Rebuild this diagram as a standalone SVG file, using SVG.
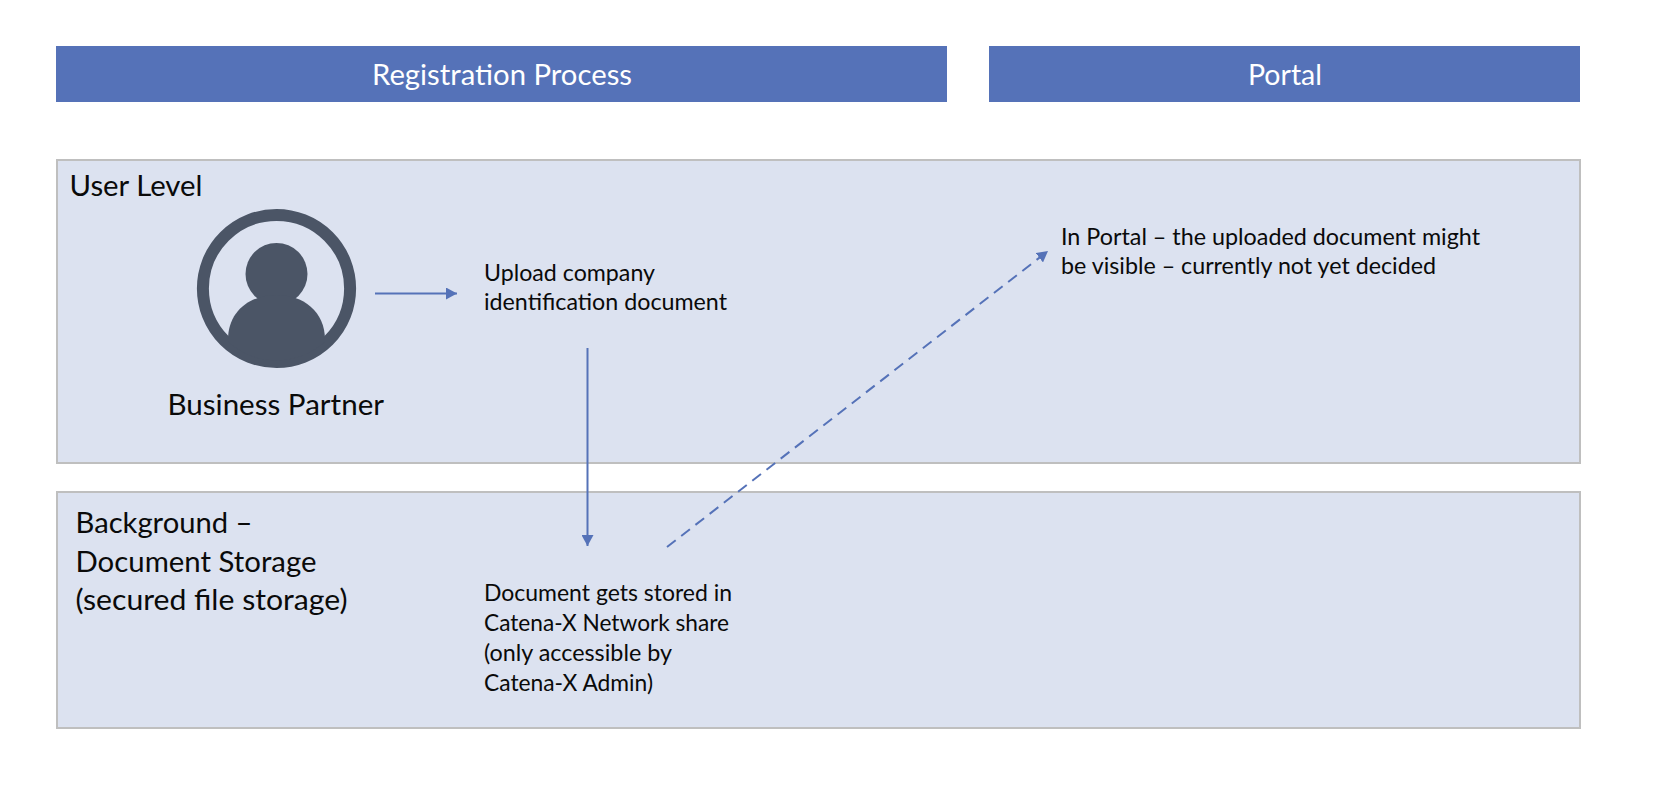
<svg xmlns="http://www.w3.org/2000/svg" width="1662" height="792" viewBox="0 0 1662 792">
<style>
text{font-family:"Lato","Open Sans","Liberation Sans",sans-serif;fill:#0a0a0a}
.h{fill:#5572b8}
.ht{fill:#fff;font-size:29px}
.p{fill:#dce2f0;stroke:#bfbfbf;stroke-width:2}
.lg{font-size:28.5px}
.sm{font-size:23px}
.c{fill:none;stroke:#5572b8;stroke-width:2}
.ic{fill:#4b5566}
</style>
<defs>
<marker id="a" markerUnits="userSpaceOnUse" markerWidth="12" markerHeight="12" refX="11" refY="6" orient="auto"><path d="M0 0L11 6L0 12Z" fill="#5572b8"/></marker>
<clipPath id="cc"><circle cx="276.5" cy="288.5" r="72"/></clipPath>
</defs>
<rect width="1662" height="792" fill="#fff"/>
<g id="header-registration"><rect class="h" x="56" y="46" width="891" height="56"/><text class="ht" x="372" y="85" textLength="260" lengthAdjust="spacingAndGlyphs">Registration Process</text></g>
<g id="header-portal"><rect class="h" x="989" y="46" width="591" height="56"/><text class="ht" x="1248" y="85" textLength="74" lengthAdjust="spacingAndGlyphs">Portal</text></g>
<g id="user-level"><rect class="p" x="57" y="160" width="1523" height="303"/><text class="lg" x="69.5" y="195.5" textLength="133" lengthAdjust="spacingAndGlyphs">User Level</text></g>
<g id="background-storage"><rect class="p" x="57" y="492" width="1523" height="236"/>
<text class="lg" x="75.5" y="533" textLength="177" lengthAdjust="spacingAndGlyphs">Background –</text>
<text class="lg" x="75.5" y="571.5" textLength="241" lengthAdjust="spacingAndGlyphs">Document Storage</text>
<text class="lg" x="75.5" y="610" textLength="272" lengthAdjust="spacingAndGlyphs">(secured file storage)</text></g>
<g id="business-partner">
<circle cx="276.5" cy="288.5" r="73.6" fill="none" stroke="#4b5566" stroke-width="12"/>
<circle class="ic" cx="276.5" cy="274" r="31"/>
<path class="ic" clip-path="url(#cc)" d="M228 340C228 311 250 295 276.5 295C303 295 325 311 325 340V365H228Z"/>
<text class="lg" x="167.5" y="415" textLength="216.5" lengthAdjust="spacingAndGlyphs">Business Partner</text></g>
<g id="upload"><text class="sm" x="484" y="280.5" textLength="171" lengthAdjust="spacingAndGlyphs">Upload company</text><text class="sm" x="484" y="309.5" textLength="243" lengthAdjust="spacingAndGlyphs">identification document</text></g>
<g id="stored"><text class="sm" x="484" y="600.5" textLength="248" lengthAdjust="spacingAndGlyphs">Document gets stored in</text><text class="sm" x="484" y="630.5" textLength="245" lengthAdjust="spacingAndGlyphs">Catena-X Network share</text><text class="sm" x="484" y="660.5" textLength="188" lengthAdjust="spacingAndGlyphs">(only accessible by</text><text class="sm" x="484" y="690.5" textLength="169" lengthAdjust="spacingAndGlyphs">Catena-X Admin)</text></g>
<g id="portal-note"><text class="sm" x="1061" y="244.5" textLength="419" lengthAdjust="spacingAndGlyphs">In Portal – the uploaded document might</text><text class="sm" x="1061" y="273.5" textLength="375" lengthAdjust="spacingAndGlyphs">be visible – currently not yet decided</text></g>
<g id="connectors">
<path class="c" marker-end="url(#a)" d="M375 293.5H457"/>
<path class="c" marker-end="url(#a)" d="M587.5 348V546"/>
<path class="c" marker-end="url(#a)" stroke-dasharray="11 7" d="M667 547L1048 251"/>
</g>
</svg>
